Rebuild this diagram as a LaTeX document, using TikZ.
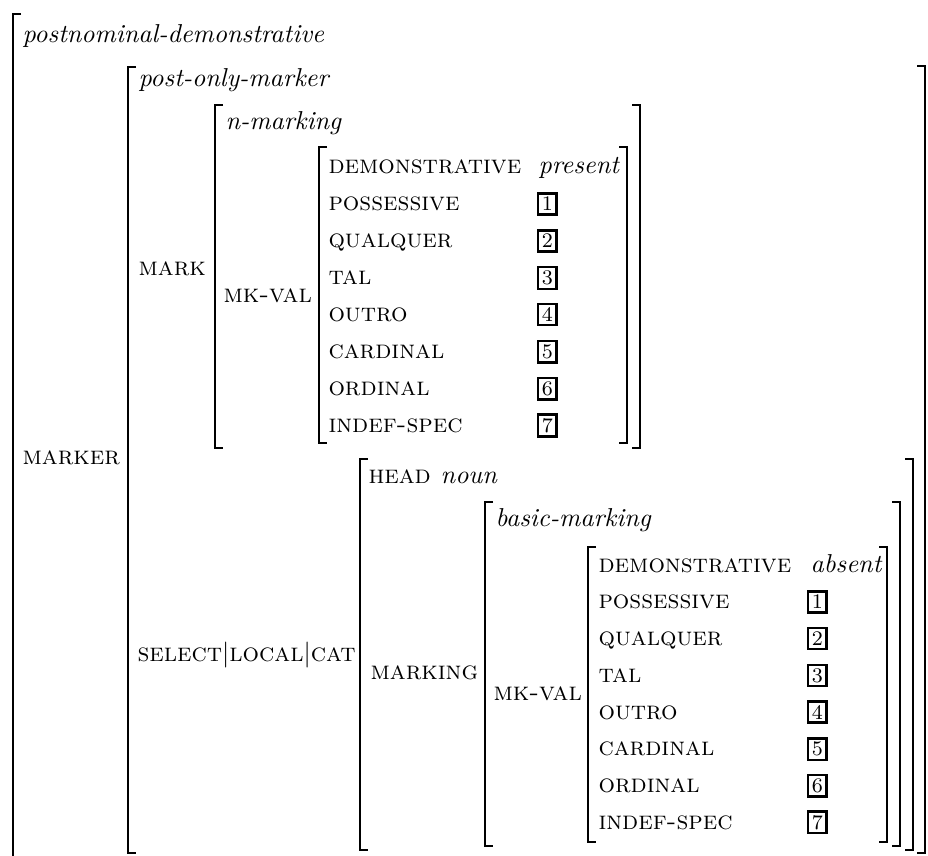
\documentclass[tikz,border=0pt]{standalone}
\usepackage{fontspec}
\tikzset{
  feat/.style={anchor=base west, inner sep=0pt, font=\scshape},
  typ/.style={anchor=base west, inner sep=0pt, font=\itshape},
  tag/.style={anchor=base west, draw, line width=0.9pt, inner sep=1.4pt, font=\footnotesize},
  brak/.style={line width=0.8pt},
}
% square brackets: x, top, bottom
\newcommand{\avmL}[3]{\draw[brak] (#1,#2) ++(8,0) -- (#1,#2) -- (#1,#3) -- ++(8,0);}
\newcommand{\avmR}[3]{\draw[brak] (#1,#2) ++(-8,0) -- (#1,#2) -- (#1,#3) -- ++(-8,0);}
\begin{document}
\begin{tikzpicture}[x=0.386pt, y=-0.386pt]
\useasboundingbox (0,0) rectangle (928,856);
%\draw[help lines, color=gray!30] (0,0) grid[step=50] (928,856);

% outermost matrix
\draw[brak] (21,14) -- (13,14) -- (13,856);
\node[typ] (pnd) at (22,43) {postnominal-demonstrative};
\node[feat] (marker) at (22,464) {marker};

% MARKER value
\avmL{128}{67}{853} \avmR{925}{66}{853}
\node[typ] (pom) at (138,87) {post-only-marker};
\node[feat] (mark) at (138,276) {mark};
\node[feat] (slc) at (137,661) {select$|$local$|$cat};

% MARK value
\avmL{215}{105}{448} \avmR{640}{105}{448}
\node[typ] (nmk) at (225,130) {n-marking};
\node[feat] (mkvala) at (223,303) {mk-val};
\avmL{319}{147}{443} \avmR{627}{147}{443}
\foreach \f [count=\i from 0] in {demonstrative,possessive,qualquer,tal,outro,cardinal,ordinal,indef-spec}
  \node[feat] (fa\i) at (328,174+36.9*\i) {\f};
\node[typ] (pres) at (538,174) {present};
\foreach \n in {1,...,7}
  \node[tag] (ta\n) at (537,174+36.9*\n) {\n};

% SELECT|LOCAL|CAT value
\avmL{360}{459}{850} \avmR{913}{459}{850}
\node[feat] (head) at (368,483) {head {\normalfont\itshape noun}};
\node[feat] (mkg) at (370,679) {marking};
\avmL{485}{502}{846} \avmR{900}{502}{846}
\node[typ] (bmk) at (495,527) {basic-marking};
\node[feat] (mkvalb) at (493,700) {mk-val};
\avmL{588}{547}{842} \avmR{887}{547}{842}
\foreach \f [count=\i from 0] in {demonstrative,possessive,qualquer,tal,outro,cardinal,ordinal,indef-spec}
  \node[feat] (fb\i) at (598,572+36.75*\i) {\f};
\node[typ] (abs) at (810,572) {absent};
\foreach \n in {1,...,7}
  \node[tag] (tb\n) at (807,572+36.75*\n) {\n};
\end{tikzpicture}
\end{document}
